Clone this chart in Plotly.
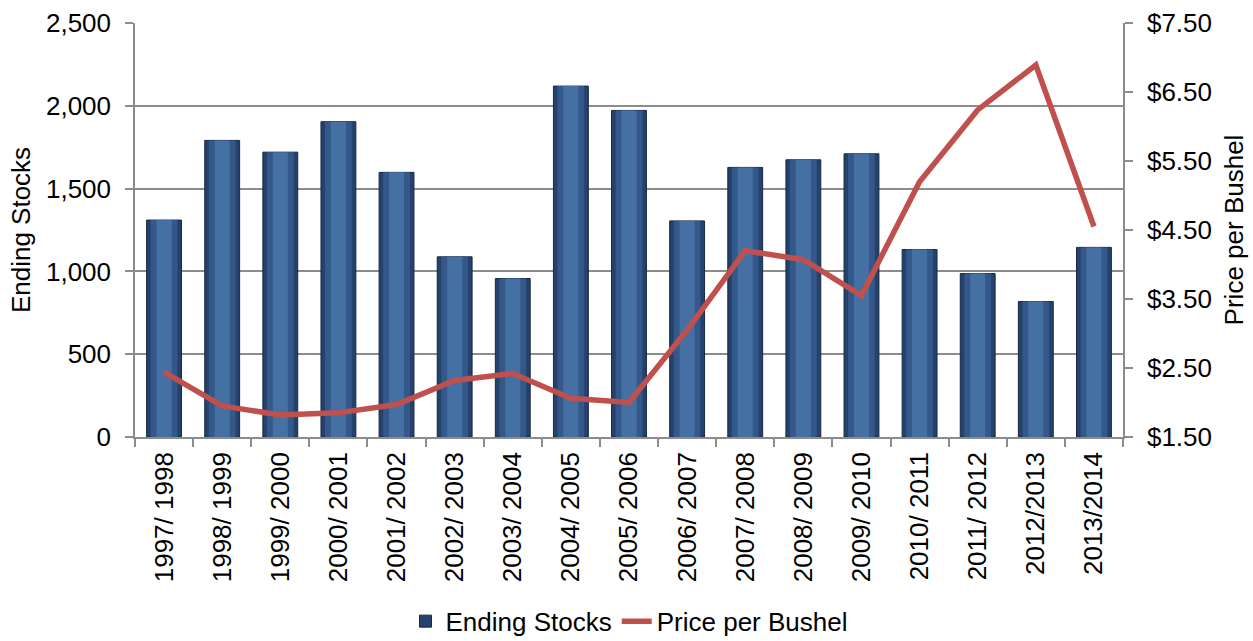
import plotly.graph_objects as go

seasons = ["1997/ 1998", "1998/ 1999", "1999/ 2000", "2000/ 2001", "2001/ 2002",
           "2002/ 2003", "2003/ 2004", "2004/ 2005", "2005/ 2006", "2006/ 2007",
           "2007/ 2008", "2008/ 2009", "2009/ 2010", "2010/ 2011", "2011/ 2012",
           "2012/2013", "2013/2014"]
ending_stocks = [1310, 1791, 1720, 1904, 1598, 1088, 957, 2119, 1972, 1305,
                 1628, 1674, 1710, 1132, 987, 818, 1145]
price_per_bushel = [2.44, 1.95, 1.82, 1.85, 1.97, 2.32, 2.42, 2.06, 2.00, 3.05,
                    4.20, 4.07, 3.55, 5.20, 6.24, 6.89, 4.55]

FONT = "Liberation Sans, Arial, sans-serif"
FS = 26

fig = go.Figure()
fig.add_trace(go.Bar(x=seasons, y=ending_stocks, name="Ending Stocks", width=0.6,
                     marker=dict(color="#24426C", line=dict(color="#17283F", width=1))))
fig.add_trace(go.Bar(x=seasons, y=ending_stocks, width=0.46, showlegend=False,
                     hoverinfo="skip", marker=dict(color="#34588A", line=dict(width=0))))
fig.add_trace(go.Bar(x=seasons, y=ending_stocks, width=0.26, showlegend=False,
                     hoverinfo="skip", marker=dict(color="#4570A4", line=dict(width=0))))
fig.add_trace(go.Scatter(x=seasons, y=price_per_bushel, name="Price per Bushel",
                         mode="lines", yaxis="y2",
                         line=dict(color="#C0504D", width=5.5)))

fig.update_layout(
    width=1253, height=641,
    margin=dict(l=135, r=130, t=23, b=204, autoexpand=False),
    paper_bgcolor="white", plot_bgcolor="white",
    barmode="overlay",
    font=dict(family=FONT, size=FS, color="#000000"),
    xaxis=dict(tickangle=-90, showline=True, linecolor="#8C8C8C", linewidth=1.5,
               ticks="outside", tickson="boundaries", ticklen=8, tickcolor="#8C8C8C",
               tickwidth=1.5, tickfont=dict(size=FS), showgrid=False, automargin=False,
               ticklabelstandoff=3),
    yaxis=dict(range=[0, 2500], dtick=500, tickformat=",d", showline=True,
               linecolor="#8C8C8C", linewidth=1.5, ticks="outside", ticklen=8,
               tickcolor="#8C8C8C", tickwidth=1.5, showgrid=True,
               gridcolor="#8C8C8C", gridwidth=1.5, zeroline=False, automargin=False,
               ticklabelstandoff=9,
               title=dict(text="Ending Stocks", font=dict(size=FS), standoff=8)),
    yaxis2=dict(range=[1.5, 7.5], tick0=1.5, dtick=1, tickprefix="$", tickformat=".2f",
                overlaying="y", side="right", showline=True, linecolor="#8C8C8C",
                linewidth=1.5, ticks="outside", ticklen=8, tickcolor="#8C8C8C",
                tickwidth=1.5, showgrid=False, zeroline=False, automargin=False,
                ticklabelstandoff=9,
                title=dict(text="Price per Bushel", font=dict(size=FS), standoff=14)),
    legend=dict(orientation="h", x=0.5, xanchor="center", y=-0.445, yanchor="middle",
                font=dict(size=FS), bgcolor="rgba(0,0,0,0)"),
)

fig.write_html("out.html", post_script="document.body.style.margin='0px';",
               config={"displayModeBar": False})
